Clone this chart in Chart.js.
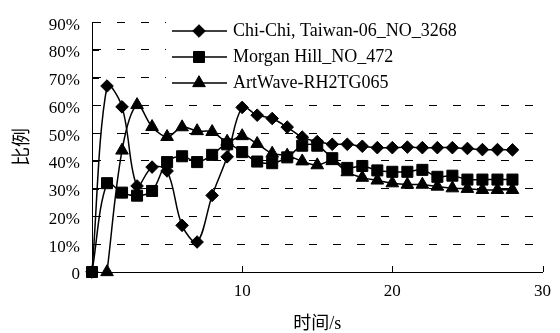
<!DOCTYPE html>
<html>
<head>
<meta charset="utf-8">
<script src="https://cdn.jsdelivr.net/npm/chart.js@4.4.1/dist/chart.umd.min.js"></script>
<style>
html,body{margin:0;padding:0;background:#fff;}
#wrap{width:560px;height:333px;position:relative;}
.fl{position:absolute;left:-999px;top:0;font-family:"Liberation Serif";font-size:17px;}
</style>
</head>
<body>
<div id="wrap"><canvas id="c" width="560" height="333"></canvas></div>
<span class="fl">0123456789% ChiMorganArtWave</span>
<script>
// ---- data ----
const times = [0,1,2,3,4,5,6,7,8,9,10,11,12,13,14,15,16,17,18,19,20,21,22,23,24,25,26,27,28];
const seriesNames = ['Chi-Chi, Taiwan-06_NO_3268', 'Morgan Hill_NO_472', 'ArtWave-RH2TG065'];
const chiChi     = [0,67,59.5,31,37.8,36.4,16.8,10.8,27.6,41.5,59.3,56.5,55.3,52.2,48.6,47,46,46,45.3,44.8,44.8,45,44.8,44.8,44.8,44.5,44.1,44.1,44];
const morganHill = [0,32,28.6,27.5,29.2,39.6,41.7,39.6,42.2,46,43.2,39.8,39.2,41.3,45.5,45.5,41,37.5,38.2,36.6,36.1,36.1,36.8,34.3,34.7,33.3,33.3,33.3,33.3];
const artWave    = [null,0,43.8,60.2,52.3,48.7,52.2,50.8,50.5,47,49,46.2,42.7,42,39.9,38.5,40,36,34,33,32,31.5,31.5,30.8,30.2,30,29.6,29.6,29.6];
const yTickValues = [0,10,20,30,40,50,60,70,80,90];
const yTickLabels = ['0','10%','20%','30%','40%','50%','60%','70%','80%','90%'];
const xTickValues = [10,20,30];
const xTickLabels = ['10','20','30'];
const xTitle = '时间/s';
const yTitle = '比例';

const FONT = '"Liberation Serif", "Noto Sans CJK SC"';
const styles = [
  {pointStyle:'rectRot', radius:6.3},
  {pointStyle:'rect', radius:7.8},
  {pointStyle:'triangle', radius:7.3}
];
const seriesValues = [chiChi, morganHill, artWave];

const datasets = seriesValues.map((vals, i) => ({
  label: seriesNames[i],
  data: times.map((t, j) => ({x: t, y: vals[j]})),
  borderColor: '#000',
  backgroundColor: '#000',
  borderWidth: 1.5,
  tension: 0.35,
  pointStyle: styles[i].pointStyle,
  pointRadius: styles[i].radius,
  pointBorderWidth: 1,
  pointBackgroundColor: '#000',
  pointBorderColor: '#000',
  spanGaps: false,
  clip: false,
  order: 3 - i
}));

function drawMarker(ctx, style, radius, x, y) {
  ctx.beginPath();
  if (style === 'rectRot') {
    ctx.moveTo(x - radius, y); ctx.lineTo(x, y - radius); ctx.lineTo(x + radius, y); ctx.lineTo(x, y + radius);
  } else if (style === 'rect') {
    const h = radius * Math.SQRT1_2; ctx.rect(x - h, y - h, 2 * h, 2 * h);
  } else {
    ctx.moveTo(x, y - radius); ctx.lineTo(x + 0.866 * radius, y + 0.5 * radius); ctx.lineTo(x - 0.866 * radius, y + 0.5 * radius);
  }
  ctx.closePath(); ctx.fillStyle = '#000'; ctx.fill(); ctx.strokeStyle = '#000'; ctx.lineWidth = 1; ctx.stroke();
}

const decor = {
  id: 'decor',
  beforeDatasetsDraw(chart) {
    const {ctx, chartArea, scales} = chart;
    ctx.save();
    ctx.fillStyle = '#fff';
    ctx.fillRect(166, 0, chartArea.right - 166 + 1, 95);
    ctx.strokeStyle = '#000';
    ctx.lineWidth = 1;
    ctx.beginPath();
    yTickValues.forEach(v => {
      const y = Math.round(scales.y.getPixelForValue(v)) + 0.5;
      ctx.moveTo(chartArea.left, y); ctx.lineTo(chartArea.left + 7, y);
    });
    xTickValues.forEach(v => {
      const x = Math.round(scales.x.getPixelForValue(v)) + 0.5;
      ctx.moveTo(x, chartArea.bottom); ctx.lineTo(x, chartArea.bottom - 6);
    });
    ctx.stroke();
    ctx.restore();
  },
  afterDatasetsDraw(chart) {
    const {ctx} = chart;
    ctx.save();
    const rows = [31, 57, 83];
    chart.data.datasets.forEach((ds, i) => {
      const y = rows[i];
      ctx.strokeStyle = '#000';
      ctx.lineWidth = 1.5;
      ctx.beginPath(); ctx.moveTo(172, y); ctx.lineTo(227, y); ctx.stroke();
      drawMarker(ctx, styles[i].pointStyle, styles[i].radius, 199, y);
      ctx.fillStyle = '#000';
      ctx.font = '18px ' + FONT;
      ctx.textBaseline = 'middle';
      ctx.textAlign = 'left';
      ctx.fillText(ds.label, 233, y);
    });
    ctx.restore();
  }
};

function build() {
  Chart.defaults.font.family = FONT;
  new Chart(document.getElementById('c'), {
    type: 'line',
    data: {datasets},
    plugins: [decor],
    options: {
      responsive: false,
      animation: false,
      devicePixelRatio: 1,
      layout: {padding: {top: 15, right: 15, bottom: 0, left: 0}},
      plugins: {legend: {display: false}, tooltip: {enabled: false}},
      scales: {
        x: {
          type: 'linear', min: 0, max: 30,
          afterBuildTicks: s => { s.ticks = xTickValues.map(v => ({value: v})); },
          afterFit: s => { s.height = 61; },
          grid: {display: false, drawTicks: false},
          border: {display: true, color: '#000', width: 1},
          ticks: {
            padding: 9, color: '#000', maxRotation: 0, autoSkip: false,
            font: {family: FONT, size: 17},
            callback: v => { const k = xTickValues.indexOf(v); return k < 0 ? '' : xTickLabels[k]; }
          },
          title: {display: true, text: xTitle, color: '#000', font: {family: FONT, size: 18, lineHeight: 1}, padding: {top: 0, bottom: 0}}
        },
        y: {
          type: 'linear', min: 0, max: 90,
          afterBuildTicks: s => { s.ticks = yTickValues.map(v => ({value: v})); },
          afterFit: s => { s.width = 92; },
          grid: {display: true, color: '#000', lineWidth: 1, drawTicks: false},
          border: {display: true, color: '#000', width: 1, dash: [8, 16]},
          ticks: {
            padding: 12, color: '#000', autoSkip: false, labelOffset: 3,
            font: {family: FONT, size: 17},
            callback: v => { const k = yTickValues.indexOf(v); return k < 0 ? '' : yTickLabels[k]; }
          },
          title: {display: true, text: yTitle, color: '#000', font: {family: FONT, size: 19, lineHeight: 1}, padding: {top: 14, bottom: 0}}
        }
      }
    }
  });
}

if (document.fonts && document.fonts.load) {
  Promise.all([
    document.fonts.load('17px "Liberation Serif"'),
    document.fonts.load('18px "Noto Sans CJK SC"', '时间比例')
  ]).then(build, build);
} else {
  build();
}
</script>
</body>
</html>
